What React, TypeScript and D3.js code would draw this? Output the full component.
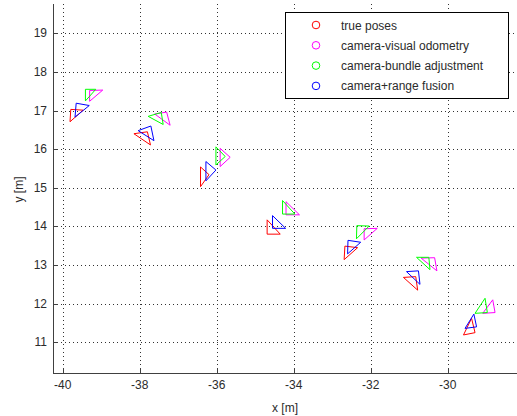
import React from 'react'
import * as d3 from 'd3'

type Pt = [number, number]

// each pose is drawn as a triangle, vertices in metres [x, y]
const truePoses: Pt[][] = [
  [[-39.79, 17.03], [-39.47, 17.01], [-39.81, 16.71]],
  [[-38.15, 16.40], [-37.80, 16.45], [-37.72, 16.11]],
  [[-36.42, 15.54], [-36.20, 15.34], [-36.42, 15.03]],
  [[-34.69, 14.17], [-34.69, 13.80], [-34.35, 13.80]],
  [[-32.67, 13.49], [-32.34, 13.45], [-32.69, 13.14]],
  [[-31.15, 12.68], [-30.83, 12.70], [-30.78, 12.35]],
  [[-29.38, 11.62], [-29.59, 11.19], [-29.29, 11.25]],
]
const visualOdometry: Pt[][] = [
  [[-39.30, 17.52], [-38.96, 17.53], [-39.30, 17.24]],
  [[-37.61, 16.91], [-37.30, 16.96], [-37.21, 16.62]],
  [[-35.91, 16.02], [-35.65, 15.79], [-35.91, 15.55]],
  [[-34.20, 14.64], [-34.20, 14.30], [-33.85, 14.30]],
  [[-32.17, 13.94], [-31.83, 13.95], [-32.17, 13.65]],
  [[-30.69, 13.18], [-30.34, 13.19], [-30.28, 12.85]],
  [[-28.83, 12.10], [-29.09, 11.75], [-28.77, 11.77]],
]
const bundleAdjustment: Pt[][] = [
  [[-39.41, 17.55], [-39.14, 17.55], [-39.41, 17.25]],
  [[-37.78, 16.85], [-37.44, 16.95], [-37.39, 16.64]],
  [[-36.02, 16.06], [-35.78, 15.81], [-36.02, 15.59]],
  [[-34.29, 14.67], [-34.29, 14.32], [-33.97, 14.32]],
  [[-32.36, 14.02], [-32.04, 14.01], [-32.37, 13.68]],
  [[-30.81, 13.20], [-30.49, 13.20], [-30.46, 12.88]],
  [[-29.03, 12.14], [-29.29, 11.75], [-28.97, 11.77]],
]
const rangeFusion: Pt[][] = [
  [[-39.65, 17.19], [-39.31, 17.13], [-39.68, 16.83]],
  [[-38.04, 16.48], [-37.71, 16.60], [-37.63, 16.22]],
  [[-36.28, 15.68], [-36.02, 15.46], [-36.28, 15.18]],
  [[-34.55, 14.28], [-34.55, 13.95], [-34.21, 13.95]],
  [[-32.59, 13.64], [-32.26, 13.59], [-32.60, 13.29]],
  [[-31.07, 12.83], [-30.76, 12.85], [-30.72, 12.50]],
  [[-29.32, 11.73], [-29.55, 11.36], [-29.25, 11.40]],
]

const seriesNames = ['true poses', 'camera-visual odometry', 'camera-bundle adjustment', 'camera+range fusion']
const seriesColors = ['#ff0000', '#ff00ff', '#00ff00', '#0000ff']
const seriesData = [truePoses, visualOdometry, bundleAdjustment, rangeFusion]

const xTicks = [-40, -38, -36, -34, -32, -30]
const yTicks = [11, 12, 13, 14, 15, 16, 17, 18, 19]

const W = 517
const H = 416
const left = 53
const right = 517
const top = 4
const bottom = 373

export default function App() {
  const x = d3.scaleLinear().domain([-40, -30]).range([62.7, 447.7])
  const y = d3.scaleLinear().domain([11, 19]).range([342.3, 33.3])
  const line = d3.line<Pt>().x(d => x(d[0])).y(d => y(d[1])).curve(d3.curveLinearClosed)
  const txt = '#2b2b2b'

  return (
    <svg width={W} height={H} style={{ position: 'absolute', left: 0, top: 0, background: '#fff' }}
      fontFamily="'Liberation Sans', Arial, sans-serif" fontSize={12}>
      {/* grid */}
      <g stroke="#000" strokeWidth={1} strokeDasharray="1,3" opacity={0.8}>
        {xTicks.map(t => (
          <line key={'gx' + t} x1={Math.round(x(t)) + 0.5} x2={Math.round(x(t)) + 0.5} y1={top} y2={bottom} />
        ))}
        {yTicks.map(t => (
          <line key={'gy' + t} x1={left} x2={right} y1={Math.round(y(t)) + 0.5} y2={Math.round(y(t)) + 0.5} />
        ))}
      </g>

      {/* poses */}
      {seriesData.map((poses, si) => (
        <g key={'s' + si} fill="none" stroke={seriesColors[si]} strokeWidth={1}>
          {poses.map((tri, i) => <path key={i} d={line(tri) || ''} />)}
        </g>
      ))}

      {/* axes */}
      <g stroke="#404040" strokeWidth={1}>
        <line x1={left + 0.5} x2={left + 0.5} y1={top} y2={bottom + 0.5} />
        <line x1={left} x2={right} y1={bottom + 0.5} y2={bottom + 0.5} />
        {xTicks.map(t => (
          <line key={'tx' + t} x1={Math.round(x(t)) + 0.5} x2={Math.round(x(t)) + 0.5} y1={bottom} y2={bottom - 5} />
        ))}
        {yTicks.map(t => (
          <line key={'ty' + t} x1={left} x2={left + 5} y1={Math.round(y(t)) + 0.5} y2={Math.round(y(t)) + 0.5} />
        ))}
      </g>
      <g fill={txt}>
        {xTicks.map(t => (
          <text key={'lx' + t} x={x(t)} y={bottom + 16} textAnchor="middle">{t}</text>
        ))}
        {yTicks.map(t => (
          <text key={'ly' + t} x={left - 6} y={y(t) + 4} textAnchor="end">{t}</text>
        ))}
        <text x={(left + right) / 2} y={412} textAnchor="middle">x [m]</text>
        <text transform={`translate(23,${(top + bottom) / 2 + 1}) rotate(-90)`} textAnchor="middle">y [m]</text>
      </g>

      {/* legend */}
      <g>
        <rect x={285.5} y={12.5} width={223} height={86} fill="#fff" stroke="#000" strokeWidth={1} />
        {seriesNames.map((n, i) => (
          <g key={n} transform={`translate(0,${25 + i * 20.3})`}>
            <circle cx={316} cy={0} r={3.8} fill="none" stroke={seriesColors[i]} strokeWidth={1} />
            <text x={341} y={4.5} fill={txt}>{n}</text>
          </g>
        ))}
      </g>
    </svg>
  )
}
